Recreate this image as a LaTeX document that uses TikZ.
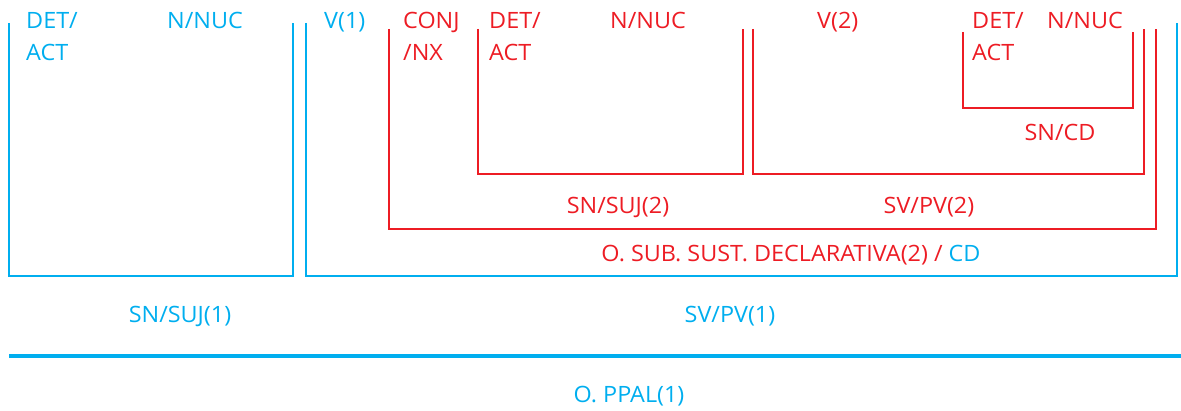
\documentclass[tikz,border=0pt]{standalone}
\usepackage{fontspec}
\setmainfont{Open Sans}[FakeStretch=1.04]
\definecolor{azul}{RGB}{0,174,239}
\definecolor{rojo}{RGB}{237,28,36}
\begin{document}
\begin{tikzpicture}[x=1pt, y=-1pt, font=\fontsize{22.5}{32}\selectfont,
    bl/.style={azul, line width=2.5pt},
    rd/.style={rojo, line width=2pt},
    lbl/.style={inner sep=0pt, anchor=base west, align=left},
    mid/.style={inner sep=0pt, anchor=base}]
    \useasboundingbox (0,0) rectangle (1181,411);
    % Main clause brackets (blue)
    \draw[bl] (9,23) -- (9,276) -- (293,276) -- (293,23);
    \draw[bl] (306,23) -- (306,276) -- (1177,276) -- (1177,23);
    \draw[azul, line width=3.5pt] (9,356) -- (1181,356);
    % Subordinate clause brackets (red)
    \draw[rd] (389,29) -- (389,229) -- (1156,229) -- (1156,29);
    \draw[rd] (478,29) -- (478,174) -- (743,174) -- (743,29);
    \draw[rd] (753,29) -- (753,174) -- (1144,174) -- (1144,29);
    \draw[rd] (963,32) -- (963,108) -- (1133,108) -- (1133,32);
    % Word labels (two-line ones sit on the second baseline)
    \node[lbl, azul] (det1) at (26,61) {DET/\\ACT};
    \node[lbl, azul] (nuc1) at (167,29) {N/NUC};
    \node[lbl, azul] (v1) at (324,29) {V(1)};
    \node[lbl, rojo] (conj) at (403,61) {CONJ\\/NX};
    \node[lbl, rojo] (det2) at (489,61) {DET/\\ACT};
    \node[lbl, rojo] (nuc2) at (610,29) {N/NUC};
    \node[lbl, rojo] (v2) at (817,29) {V(2)};
    \node[lbl, rojo] (det3) at (972,61) {DET/\\ACT};
    \node[lbl, rojo] (nuc3) at (1047,29) {N/NUC};
    % Phrase labels
    \node[mid, rojo] (sncd) at (1060,141) {SN/CD};
    \node[mid, rojo] (snsuj2) at (618,214) {SN/SUJ(2)};
    \node[mid, rojo] (svpv2) at (929,214) {SV/PV(2)};
    \node[mid, rojo] (osub) at (791,262) {O. SUB. SUST. DECLARATIVA(2) / \textcolor{azul}{CD}};
    \node[mid, azul] (snsuj1) at (180,323) {SN/SUJ(1)};
    \node[mid, azul] (svpv1) at (730,323) {SV/PV(1)};
    \node[mid, azul] (ppal) at (629,403) {O. PPAL(1)};
\end{tikzpicture}
\end{document}
